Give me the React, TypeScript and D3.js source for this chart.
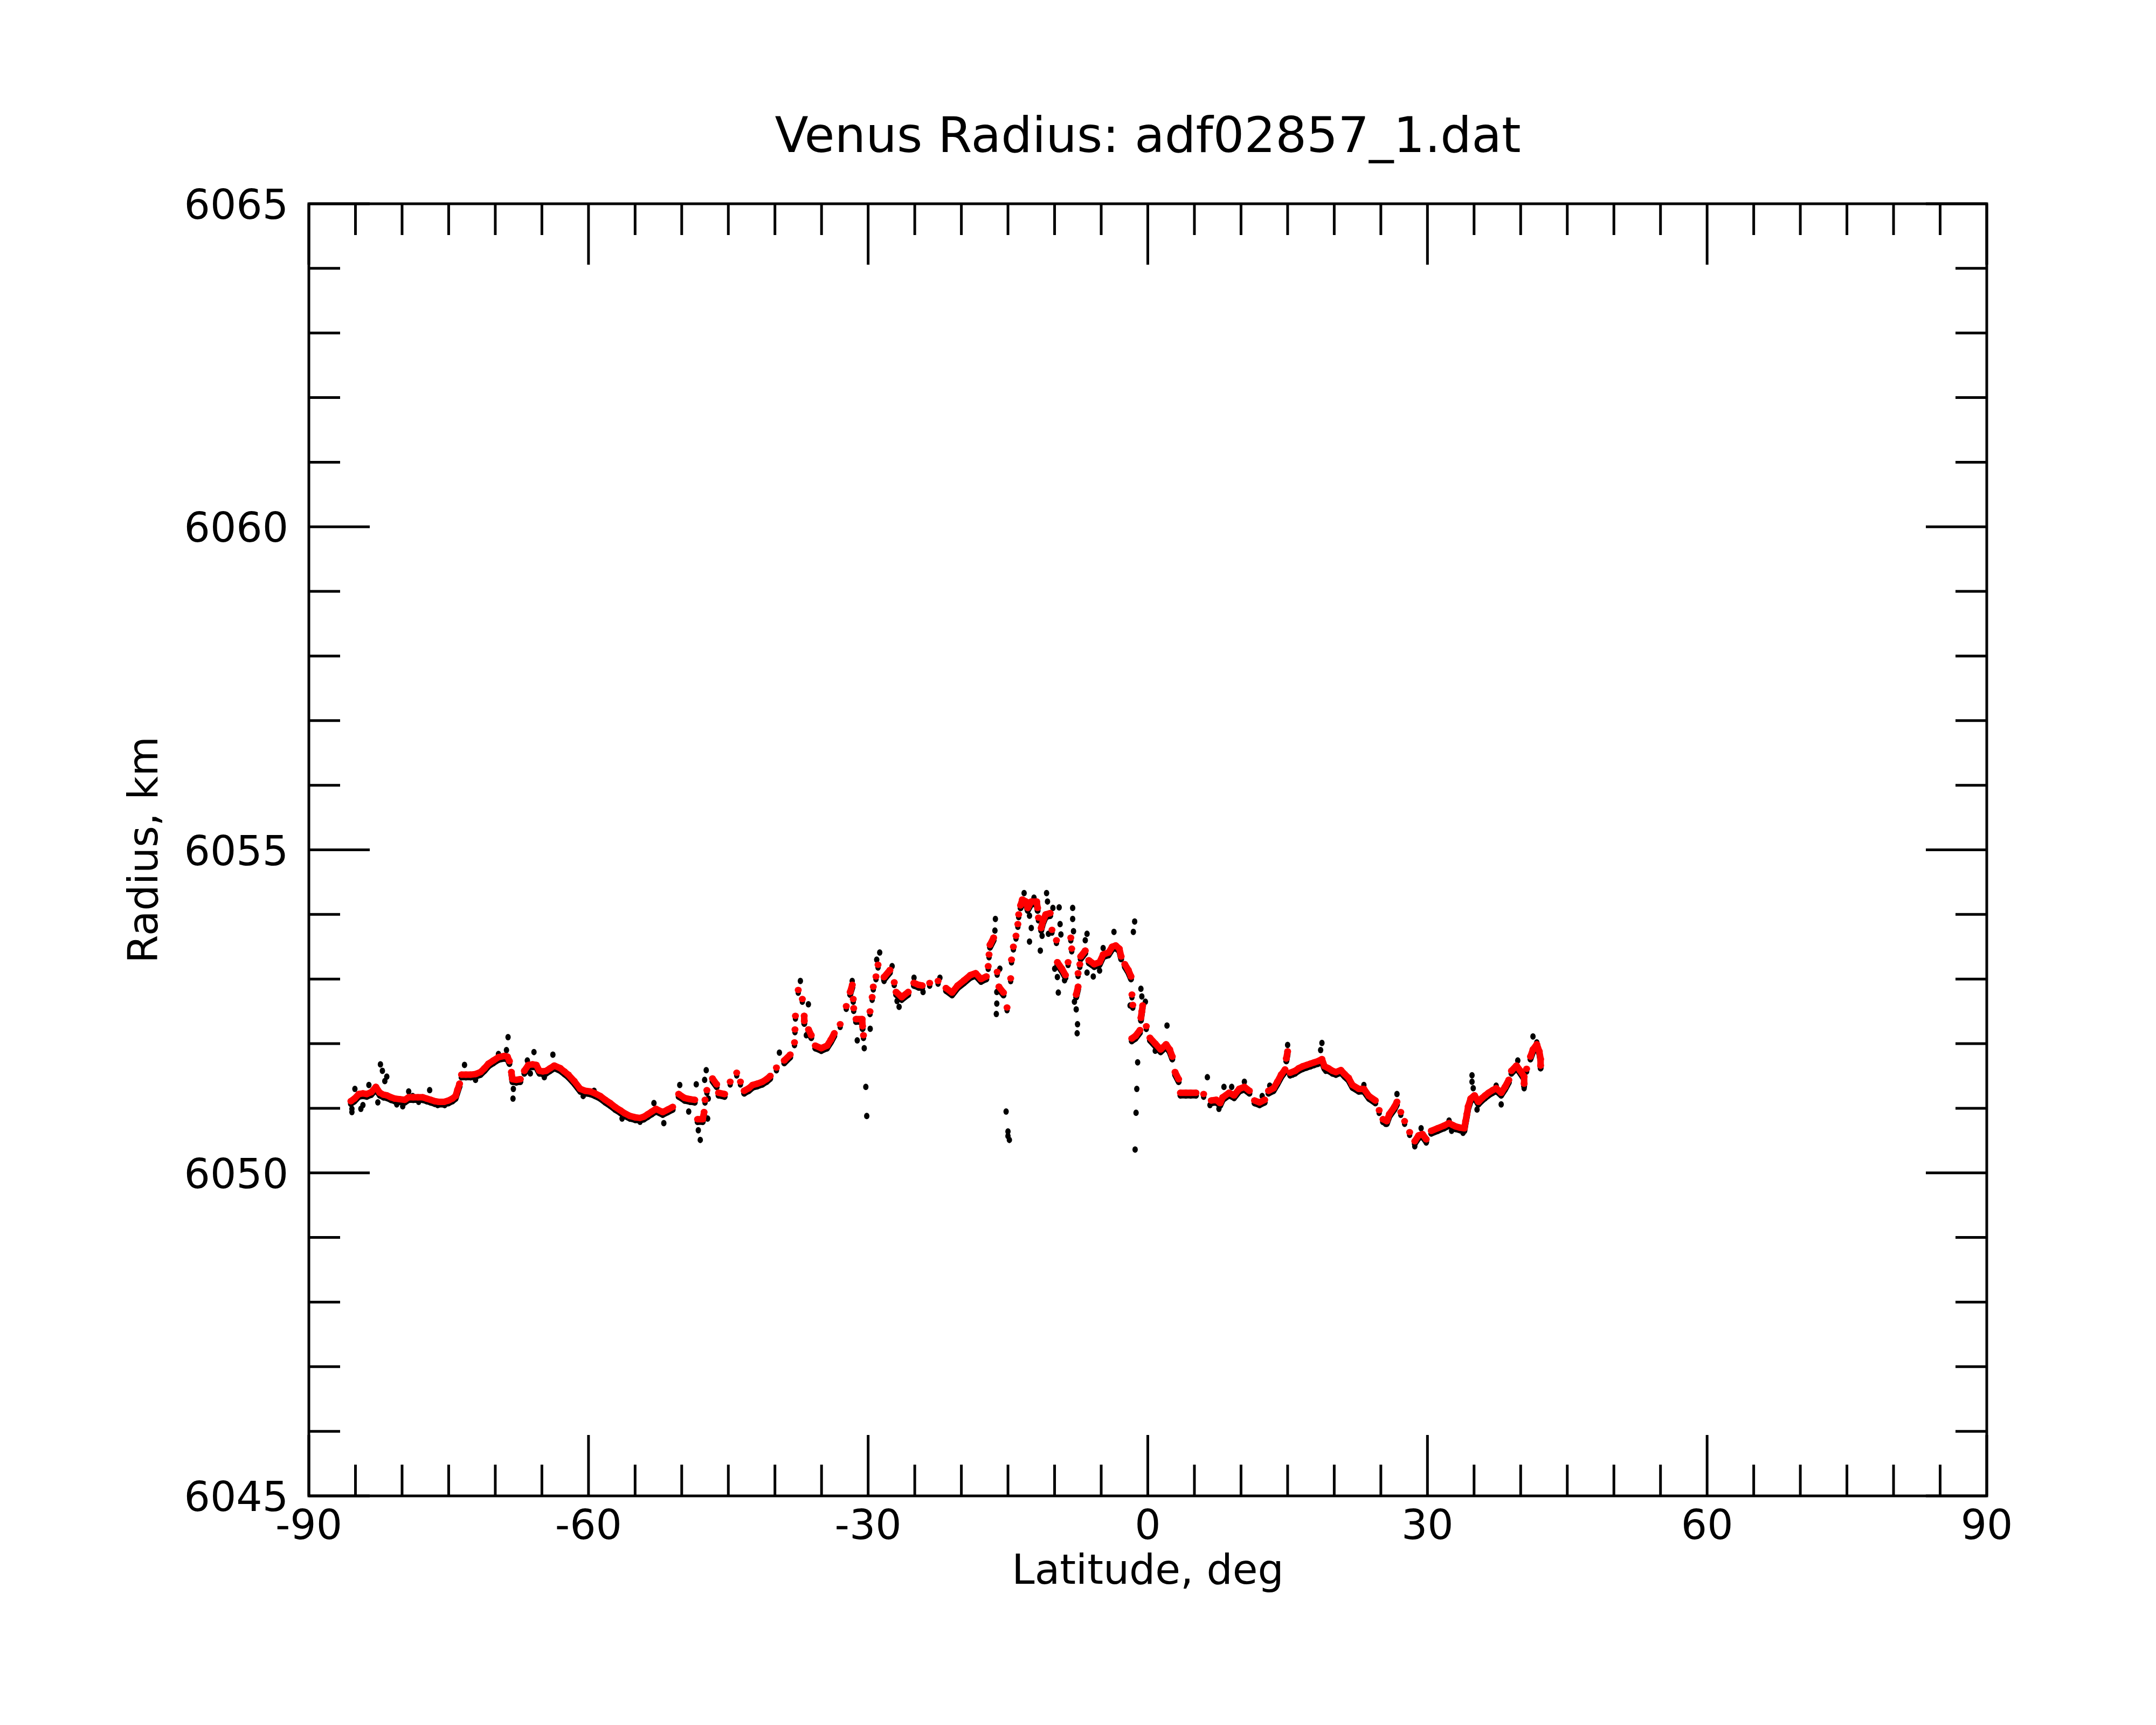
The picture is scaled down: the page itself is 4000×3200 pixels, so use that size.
import React from 'react';
import * as d3 from 'd3';

// Smoothed profile (red), latitude in degrees and radius in km
const redLat = [
  -85.49, -85.1, -84.63, -84.2, -83.78, -83.3, -82.81, -82.39, -82.0, -81.64, -81.2, -80.78, -80.25, -79.71, -79.29,
  -78.8, -78.3, -77.79, -77.35, -76.93, -76.5, -76.08, -75.5, -75.01, -74.6, -74.26, -74.04, -73.83, -73.62, -73.15,
  -72.65, -72.1, -71.58, -71.15, -70.73, -70.2, -69.66, -69.02, -68.7, -68.48, -68.27, -68.16, -67.75, -67.31, -66.88,
  -66.45, -66.0, -65.6, -65.27, -64.9, -64.53, -64.1, -63.67, -63.03, -62.6, -62.17, -61.53, -60.89, -60.35, -59.82,
  -59.3, -58.75, -58.2, -57.68, -57.15, -56.61, -56.1, -55.54, -55.0, -54.47, -54.05, -53.62, -53.2, -52.76, -52.04,
  -51.5, -50.97, -50.33, -49.7, -49.1, -48.6, -48.3, -47.75, -47.6, -47.5, -47.3, -46.7, -46.25, -46.05, -45.4,
  -44.8, -44.1, -43.7, -43.3, -42.8, -42.4, -41.9, -41.34, -40.9, -40.5, -39.84, -39.0, -38.36, -37.9, -37.85,
  -37.8, -37.5, -37.06, -36.86, -36.85, -36.4, -36.1, -35.67, -35.03, -34.4, -34.0, -33.63, -33.0, -32.35, -31.93,
  -31.7, -31.6, -31.55, -31.3, -30.64, -30.6, -30.5, -29.8, -29.57, -29.45, -29.16, -28.94, -28.3, -27.66, -27.2,
  -27.0, -26.4, -25.7, -25.1, -24.6, -24.2, -23.4, -22.5, -21.65, -21.0, -20.4, -19.7, -19.05, -18.47, -17.89,
  -17.32, -17.12, -17.03, -16.93, -16.54, -16.16, -15.97, -15.48, -15.1, -14.71, -14.62, -14.42, -14.14, -13.94, -13.85,
  -13.65, -13.46, -13.07, -12.88, -12.5, -11.92, -11.82, -11.73, -11.44, -11.24, -10.95, -10.47, -10.28, -9.8, -9.7,
  -9.22, -8.83, -8.55, -8.26, -8.16, -7.68, -7.48, -7.48, -7.29, -7.2, -6.71, -6.33, -5.75, -5.17, -4.79,
  -4.21, -3.82, -3.44, -3.05, -2.86, -2.47, -2.09, -1.8, -1.7, -1.61, -1.72, -1.32, -0.84, -0.74, -0.64,
  -0.55, -0.16, 0.23, 0.8, 1.38, 1.96, 2.35, 2.63, 2.92, 3.31, 3.5, 4.08, 4.6, 5.17, 5.99,
  6.81, 7.35, 7.76, 8.04, 8.72, 9.26, 9.81, 10.36, 10.9, 11.45, 11.99, 12.54, 12.95, 13.49, 13.9,
  14.31, 14.72, 14.86, 15.0, 15.27, 15.81, 16.2, 16.63, 17.05, 17.45, 17.85, 18.27, 18.68, 18.95, 19.36,
  19.8, 20.18, 20.72, 21.1, 21.54, 21.95, 22.63, 23.18, 23.72, 24.41, 24.82, 25.23, 25.64, 25.91, 26.45,
  26.73, 27.14, 27.55, 28.09, 28.64, 29.05, 29.46, 29.87, 30.41, 31.09, 31.77, 32.32, 32.7, 33.0, 33.5,
  33.96, 34.09, 34.23, 34.37, 34.64, 35.05, 35.46, 35.87, 36.2, 36.55, 37.0, 37.37, 37.91, 38.32, 38.73,
  39.01, 39.55, 39.96, 40.37, 40.37, 40.64, 41.05, 41.32, 41.73, 42.0, 42.14, 42.14,
];
const redRadius = [
  6051.11, 6051.15, 6051.22, 6051.23, 6051.22, 6051.25, 6051.33, 6051.24, 6051.21, 6051.2, 6051.17, 6051.15, 6051.14, 6051.13, 6051.17,
  6051.17, 6051.17, 6051.17, 6051.15, 6051.13, 6051.11, 6051.1, 6051.1, 6051.12, 6051.15, 6051.19, 6051.29, 6051.38, 6051.52, 6051.52,
  6051.52, 6051.53, 6051.56, 6051.62, 6051.69, 6051.74, 6051.79, 6051.81, 6051.8, 6051.73, 6051.56, 6051.45, 6051.44, 6051.45, 6051.58,
  6051.67, 6051.68, 6051.67, 6051.58, 6051.57, 6051.58, 6051.62, 6051.66, 6051.62, 6051.57, 6051.52, 6051.42, 6051.3, 6051.27, 6051.26,
  6051.23, 6051.19, 6051.13, 6051.08, 6051.02, 6050.97, 6050.92, 6050.88, 6050.86, 6050.85, 6050.87, 6050.91, 6050.95, 6050.99, 6050.94,
  6050.98, 6051.02, 6051.22, 6051.16, 6051.14, 6051.13, 6050.83, 6050.83, 6050.94, 6051.13, 6051.28, 6051.46, 6051.37, 6051.24, 6051.22,
  6051.41, 6051.55, 6051.41, 6051.27, 6051.31, 6051.36, 6051.38, 6051.41, 6051.45, 6051.5, 6051.63, 6051.74, 6051.83, 6052.02, 6052.22,
  6052.43, 6052.83, 6052.69, 6052.43, 6052.35, 6052.22, 6052.13, 6051.97, 6051.93, 6051.97, 6052.06, 6052.16, 6052.3, 6052.58, 6052.8,
  6052.91, 6052.69, 6052.55, 6052.38, 6052.38, 6052.27, 6052.13, 6052.5, 6052.72, 6052.88, 6053.04, 6053.22, 6053.03, 6053.14, 6052.95,
  6052.8, 6052.72, 6052.8, 6052.94, 6052.91, 6052.9, 6052.94, 6052.97, 6052.86, 6052.79, 6052.9, 6052.98, 6053.06, 6053.09, 6053.0,
  6053.04, 6053.2, 6053.38, 6053.53, 6053.64, 6053.11, 6052.88, 6052.79, 6052.56, 6053.01, 6053.3, 6053.5, 6053.67, 6053.85, 6054.0,
  6054.14, 6054.23, 6054.2, 6054.1, 6054.2, 6054.2, 6054.1, 6053.95, 6053.79, 6053.9, 6054.0, 6054.02, 6053.76, 6053.6, 6053.26,
  6053.16, 6053.06, 6053.26, 6053.64, 6053.47, 6052.76, 6052.88, 6053.09, 6053.23, 6053.35, 6053.44, 6053.29, 6053.23, 6053.26, 6053.38,
  6053.41, 6053.5, 6053.52, 6053.47, 6053.35, 6053.23, 6053.14, 6053.04, 6052.76, 6052.6, 6052.08, 6052.12, 6052.21, 6052.4, 6052.5,
  6052.59, 6052.27, 6052.09, 6052.0, 6051.91, 6051.99, 6051.91, 6051.8, 6051.56, 6051.45, 6051.24, 6051.24, 6051.24, 6051.24, 6051.22,
  6051.12, 6051.13, 6051.08, 6051.17, 6051.24, 6051.2, 6051.3, 6051.33, 6051.27, 6051.12, 6051.09, 6051.13, 6051.27, 6051.31, 6051.41,
  6051.52, 6051.6, 6051.77, 6051.88, 6051.55, 6051.58, 6051.62, 6051.65, 6051.67, 6051.69, 6051.71, 6051.73, 6051.76, 6051.65, 6051.62,
  6051.58, 6051.56, 6051.59, 6051.53, 6051.47, 6051.36, 6051.3, 6051.3, 6051.19, 6051.12, 6050.97, 6050.83, 6050.8, 6050.91, 6051.02,
  6051.1, 6050.94, 6050.8, 6050.63, 6050.49, 6050.58, 6050.6, 6050.52, 6050.65, 6050.69, 6050.73, 6050.77, 6050.74, 6050.72, 6050.7,
  6050.69, 6050.8, 6050.91, 6051.03, 6051.15, 6051.2, 6051.1, 6051.16, 6051.2, 6051.24, 6051.28, 6051.31, 6051.24, 6051.33, 6051.44,
  6051.58, 6051.66, 6051.58, 6051.49, 6051.38, 6051.61, 6051.8, 6051.91, 6051.99, 6051.88, 6051.76, 6051.66,
];

// Raw measurements that stand apart from the smoothed profile (black)
const blackLat = [
  -85.38, -85.38, -85.06, -84.42, -84.2, -83.56, -82.6, -82.32, -82.11, -81.64, -81.85, -80.57, -79.93, -79.29, -78.86,
  -78.22, -77.04, -76.18, -75.43, -73.3, -72.12, -69.66, -68.63, -68.8, -68.06, -68.1, -66.56, -66.24, -65.85, -64.74,
  -63.82, -60.57, -59.4, -56.4, -54.47, -52.98, -51.92, -50.21, -49.25, -48.44, -48.22, -48.01, -47.37, -47.22, -47.15,
  -47.54, -43.26, -39.52, -37.27, -36.41, -36.63, -31.71, -31.17, -30.42, -30.25, -30.15, -29.78, -28.76, -29.08, -27.43,
  -28.29, -26.68, -26.9, -25.08, -24.11, -22.3, -21.12, -16.35, -16.4, -15.87, -16.2, -16.25, -16.2, -15.2, -15.0,
  -15.0, -14.85, -13.27, -12.21, -10.86, -10.76, -10.18, -9.51, -9.41, -12.69, -12.5, -12.69, -11.53, -11.34, -10.66,
  -9.32, -9.99, -9.7, -9.6, -8.93, -8.06, -8.06, -7.97, -7.87, -7.68, -7.54, -7.58, -6.52, -6.71, -6.52,
  -5.85, -5.17, -4.79, -3.63, -1.41, -1.55, -0.74, -0.64, -0.26, -1.09, -1.18, -1.26, -1.36, 2.06, 6.39,
  0.8, -1.9, 8.17, 7.63, 6.67, 9.0, 10.36, 12.27, 13.08, 15.0, 15.54, 18.68, 18.54, 19.09, 23.18,
  25.5, 26.73, 28.64, 29.32, 29.87, 32.32, 32.59, 33.82, 34.78, 34.78, 34.91, 35.32, 37.37, 37.91, 39.69,
  40.37, 41.32, 41.73,
];
const blackRadius = [
  6050.94, 6050.99, 6051.3, 6050.99, 6051.05, 6051.36, 6051.09, 6051.68, 6051.58, 6051.49, 6051.42, 6051.06, 6051.03, 6051.26, 6051.19,
  6051.1, 6051.28, 6051.05, 6051.05, 6051.67, 6051.44, 6051.84, 6052.1, 6051.9, 6051.3, 6051.15, 6051.74, 6051.54, 6051.87, 6051.48,
  6051.83, 6051.19, 6051.27, 6050.84, 6050.79, 6051.08, 6050.77, 6051.36, 6050.95, 6051.37, 6050.66, 6050.51, 6051.59, 6050.84, 6051.15,
  6051.44, 6051.23, 6051.86, 6052.97, 6052.61, 6052.13, 6052.97, 6052.05, 6051.93, 6051.33, 6050.88, 6052.23, 6053.41, 6053.3, 6053.2,
  6052.97, 6052.57, 6052.66, 6053.02, 6052.8, 6053.02, 6052.77, 6053.93, 6053.75, 6053.16, 6052.62, 6052.46, 6052.8, 6050.95, 6050.64,
  6050.57, 6050.51, 6054.33, 6054.26, 6054.33, 6054.2, 6054.1, 6054.11, 6053.85, 6053.98, 6053.79, 6053.58, 6053.44, 6053.67, 6053.7,
  6053.69, 6053.16, 6053.03, 6052.79, 6052.98, 6054.1, 6053.93, 6053.74, 6052.65, 6052.53, 6052.3, 6052.16, 6053.7, 6053.6, 6053.1,
  6053.04, 6053.13, 6053.48, 6053.73, 6053.89, 6053.73, 6052.85, 6052.73, 6052.65, 6051.71, 6051.3, 6050.93, 6050.36, 6052.28, 6051.48,
  6051.89, 6052.59, 6051.33, 6050.99, 6051.05, 6051.33, 6051.41, 6051.19, 6051.35, 6051.98, 6051.52, 6052.01, 6051.9, 6051.58, 6051.36,
  6050.76, 6051.22, 6050.41, 6050.69, 6050.47, 6050.81, 6050.65, 6050.62, 6051.51, 6051.41, 6051.31, 6050.98, 6051.35, 6051.06, 6051.74,
  6051.31, 6052.11, 6052.02,
];

const xTickLabels = [-90, -60, -30, 0, 30, 60, 90];
const yTickLabels = [6045, 6050, 6055, 6060, 6065];

const FONT = '"DejaVu Sans", Verdana, sans-serif';

export default function App() {
  const W = 4000;
  const H = 3200;
  const L = 573, R = 3686, T = 378, B = 2775;
  const x = d3.scaleLinear().domain([-90, 90]).range([L, R]);
  const y = d3.scaleLinear().domain([6045, 6065]).range([B, T]);

  type P = { lat: number; r: number };
  const red: P[] = redLat.map((la, i) => ({ lat: la, r: redRadius[i] }));
  const black: P[] = blackLat.map((la, i) => ({ lat: la, r: blackRadius[i] }));

  // split the smoothed profile where it jumps, so steep parts stay dotted
  const segs: P[][] = [];
  let cur: P[] = [red[0]];
  for (let i = 1; i < red.length; i++) {
    const a = red[i - 1], b = red[i];
    if (Math.abs(b.r - a.r) > 0.12 || Math.abs(b.lat - a.lat) > 0.8) {
      segs.push(cur);
      cur = [b];
    } else cur.push(b);
  }
  segs.push(cur);

  const line = d3.line<P>().x((d) => x(d.lat)).y((d) => y(d.r));

  const xMinor = d3.range(-90, 91, 5);
  const yMinor = d3.range(6045, 6066, 1);
  const MINOR = 58, MAJOR = 113;
  const SW = 5;

  return (
    <svg
      width={W}
      height={H}
      viewBox={`0 0 ${W} ${H}`}
      style={{ position: 'absolute', left: 0, top: 0, display: 'block', background: '#fff' }}
      fontFamily={FONT}
    >
      <rect x={0} y={0} width={W} height={H} fill="#fff" />

      {/* title */}
      <text x={(L + R) / 2} y={282} textAnchor="middle" fontSize={91} fill="#000">
        Venus Radius: adf02857_1.dat
      </text>

      {/* data: black raw points hugging the profile (drawn as a shadow under it) */}
      <g transform="translate(0,5)">
        {segs.filter((s) => s.length > 1).map((s, i) => (
          <path key={'bs' + i} d={line(s) || ''} fill="none" stroke="#000" strokeWidth={11} strokeLinejoin="round" strokeLinecap="round" />
        ))}
        {red.map((d, i) => (
          <ellipse key={'bsd' + i} cx={x(d.lat)} cy={y(d.r)} rx={5} ry={6} fill="#000" />
        ))}
      </g>
      {black.map((d, i) => (
        <ellipse key={'b' + i} cx={x(d.lat)} cy={y(d.r)} rx={5} ry={6} fill="#000" />
      ))}
      {segs.filter((s) => s.length > 1).map((s, i) => (
        <path key={'rs' + i} d={line(s) || ''} fill="none" stroke="#ff0000" strokeWidth={12} strokeLinejoin="round" strokeLinecap="round" />
      ))}
      {red.map((d, i) => (
        <ellipse key={'r' + i} cx={x(d.lat)} cy={y(d.r)} rx={6.5} ry={6} fill="#ff0000" />
      ))}

      {/* ticks */}
      <g stroke="#000" strokeWidth={SW}>
        {xMinor.map((v) => {
          const len = v % 30 === 0 ? MAJOR : MINOR;
          const xx = x(v);
          return (
            <g key={'xt' + v}>
              <line x1={xx} x2={xx} y1={B} y2={B - len} />
              <line x1={xx} x2={xx} y1={T} y2={T + len} />
            </g>
          );
        })}
        {yMinor.map((v) => {
          const len = v % 5 === 0 ? MAJOR : MINOR;
          const yy = y(v);
          return (
            <g key={'yt' + v}>
              <line x1={L} x2={L + len} y1={yy} y2={yy} />
              <line x1={R} x2={R - len} y1={yy} y2={yy} />
            </g>
          );
        })}
      </g>

      {/* frame */}
      <rect x={L} y={T} width={R - L} height={B - T} fill="none" stroke="#000" strokeWidth={SW} />

      {/* tick labels */}
      {xTickLabels.map((v) => (
        <text key={'xl' + v} x={x(v)} y={2855} textAnchor="middle" fontSize={76} fill="#000">
          {v}
        </text>
      ))}
      {yTickLabels.map((v) => (
        <text key={'yl' + v} x={535} y={y(v) + 28} textAnchor="end" fontSize={76} fill="#000">
          {v}
        </text>
      ))}

      {/* axis titles */}
      <text x={(L + R) / 2} y={2938} textAnchor="middle" fontSize={76} fill="#000">
        Latitude, deg
      </text>
      <text transform={`translate(292, ${(T + B) / 2}) rotate(-90)`} textAnchor="middle" fontSize={76} fill="#000">
        Radius, km
      </text>
    </svg>
  );
}
